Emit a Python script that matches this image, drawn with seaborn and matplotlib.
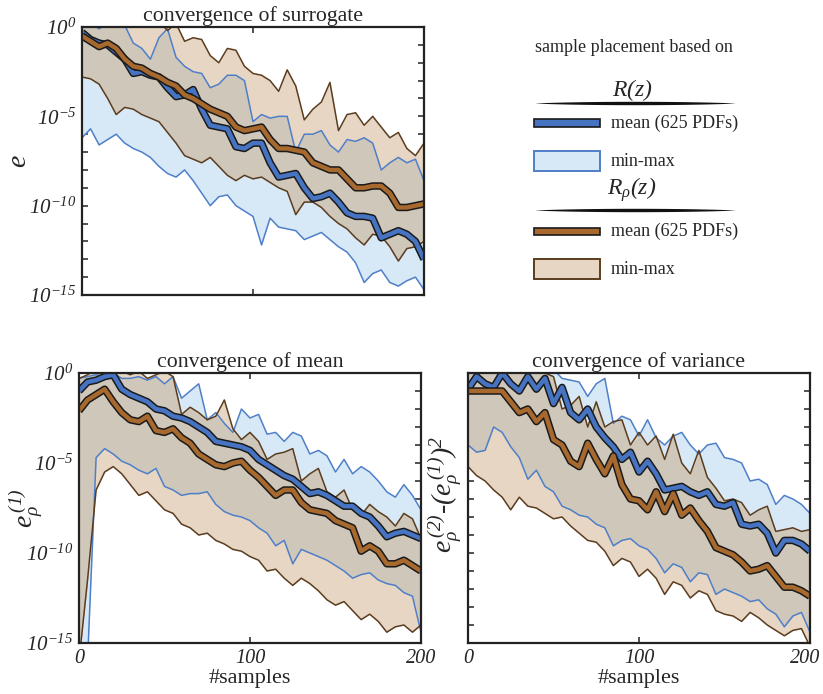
import numpy as np
import pandas as pd
import matplotlib
matplotlib.use("Agg")
import matplotlib.pyplot as plt
import matplotlib.transforms as mtransforms
from matplotlib.patches import Rectangle
import seaborn as sns

# number of samples at which the errors are recorded
samples = np.arange(0, 201, 5)

# log10 of the error; R = placement based on R(z), Q = placement based on R_rho(z)
# --- convergence of surrogate ---
surr_R_mean = [-0.3, -0.7, -0.9, -1.0, -1.4, -1.8, -2.6, -2.5, -2.7, -2.8, -3.4, -3.9, -3.8, -3.5,
               -4.6, -5.5, -5.6, -5.7, -6.7, -6.8, -6.5, -6.5, -7.6, -8.4, -8.3, -8.2, -9.0, -9.6,
               -9.5, -9.3, -9.8, -10.4, -10.6, -10.6, -10.7, -11.8, -11.6, -11.4, -11.6, -12.0, -13.0]
surr_R_min = [-6.2, -5.7, -6.6, -6.3, -6.0, -6.5, -6.8, -7.0, -7.3, -7.8, -8.2, -8.4, -8.0, -8.6,
              -9.3, -10.0, -9.5, -9.4, -10.0, -10.3, -10.6, -12.2, -10.7, -11.2, -11.3, -11.4, -11.9,
              -11.7, -11.5, -11.9, -12.3, -12.6, -13.2, -14.3, -13.8, -13.6, -14.3, -14.5, -14.2,
              -14.0, -14.7]
surr_R_max = [0.3, 0.2, -0.1, 0.2, 0.2, 0.1, -0.9, -1.2, -1.8, -0.6, -0.1, -1.7, -2.2, -2.5, -2.6,
              -3.4, -3.2, -2.7, -2.7, -3.0, -5.3, -4.9, -5.1, -5.0, -5.0, -7.0, -6.0, -6.0, -5.8,
              -6.6, -7.0, -6.3, -6.4, -6.2, -6.5, -8.0, -7.6, -7.3, -7.6, -7.4, -8.6]
surr_Q_mean = [-0.5, -0.8, -1.1, -0.9, -1.2, -1.8, -2.2, -2.3, -2.6, -2.8, -3.1, -3.3, -3.8, -4.0,
               -4.3, -4.6, -4.8, -5.0, -5.6, -5.8, -5.7, -5.6, -6.3, -6.8, -6.8, -6.9, -7.0, -7.6,
               -7.8, -8.0, -8.0, -8.5, -9.0, -9.0, -8.9, -8.9, -9.3, -10.1, -10.1, -10.0, -9.9]
surr_Q_min = [-2.8, -2.9, -3.2, -4.0, -4.9, -4.5, -4.6, -4.9, -5.1, -5.3, -5.9, -6.5, -7.2, -7.4,
              -7.6, -7.3, -7.8, -8.3, -8.6, -8.3, -8.5, -8.4, -8.7, -9.0, -9.2, -10.5, -9.8, -9.8,
              -10.1, -10.6, -11.0, -11.3, -11.8, -12.2, -11.6, -11.7, -12.3, -13.1, -12.4, -12.3,
              -12.0]
surr_Q_max = [0.3, 0.3, 0.3, 0.3, 0.3, 0.3, 0.3, 0.3, 0.3, 0.3, -0.2, 0.2, -0.8, -0.6, -0.7, -1.6,
              -2.0, -1.2, -1.3, -2.2, -2.6, -2.7, -3.0, -3.6, -2.4, -3.3, -5.2, -4.6, -4.2, -3.1,
              -5.8, -4.9, -4.8, -5.5, -5.0, -5.6, -6.2, -5.9, -6.8, -7.2, -6.5]

# --- convergence of mean ---
mean_R_mean = [-1.0, -0.5, -0.4, -0.2, -0.1, -0.9, -1.2, -1.4, -1.6, -2.0, -2.1, -2.4, -2.5, -2.7,
               -3.0, -3.3, -3.8, -3.9, -4.0, -4.1, -4.3, -4.8, -5.1, -5.4, -5.7, -5.9, -6.3, -6.7,
               -6.6, -6.8, -7.1, -7.4, -7.4, -7.8, -8.0, -8.5, -9.1, -8.9, -8.8, -9.0, -9.2]
mean_R_min = [-16.0, -16.0, -4.7, -4.2, -4.5, -4.9, -5.1, -5.4, -5.6, -5.3, -6.3, -6.5, -6.8, -6.7,
              -6.7, -6.6, -7.3, -7.7, -7.9, -8.0, -8.2, -8.6, -8.9, -9.6, -9.3, -10.6, -9.8, -10.0,
              -10.2, -10.4, -10.7, -11.0, -11.4, -11.2, -11.1, -11.5, -11.7, -11.8, -12.2, -12.4,
              -14.4]
mean_R_max = [-0.3, -0.2, -0.1, -0.2, 0.0, -0.3, -0.3, -0.2, -0.4, -0.2, -0.6, -0.2, -1.4, -1.0,
              -0.6, -2.6, -2.2, -2.8, -3.3, -2.0, -2.5, -2.3, -3.4, -3.3, -3.8, -3.3, -3.5, -4.5,
              -4.3, -4.6, -5.5, -4.8, -5.6, -5.2, -5.5, -6.0, -6.6, -6.9, -6.2, -6.8, -7.6]
mean_Q_mean = [-2.1, -1.5, -1.2, -0.9, -1.6, -2.2, -2.6, -2.7, -2.4, -3.2, -3.3, -3.1, -3.6, -3.9,
               -4.5, -4.8, -5.1, -5.2, -5.0, -4.9, -5.4, -5.8, -6.3, -6.8, -6.5, -6.5, -7.2, -7.6,
               -7.7, -7.8, -8.2, -8.4, -8.6, -9.9, -9.6, -9.9, -10.6, -10.6, -10.4, -10.7, -11.0]
mean_Q_min = [-16.0, -11.5, -6.5, -5.5, -5.2, -5.6, -6.2, -6.8, -6.6, -7.1, -7.6, -7.8, -8.4, -8.6,
              -9.0, -8.9, -9.3, -9.5, -9.8, -9.9, -10.2, -10.4, -11.0, -10.9, -11.4, -11.8, -11.4,
              -11.7, -12.1, -12.6, -12.9, -12.7, -13.2, -13.7, -13.4, -13.8, -14.4, -14.1, -14.0,
              -14.4, -14.0]
mean_Q_max = [-0.3, -0.1, 0.2, 0.2, 0.2, 0.1, -0.1, 0.1, -0.3, -0.1, 0.1, -0.2, -2.3, -1.9, -2.2,
              -2.6, -2.4, -1.5, -3.1, -3.7, -3.3, -3.8, -4.8, -4.5, -4.4, -4.2, -6.0, -5.6, -5.3,
              -6.6, -6.9, -6.5, -7.6, -7.9, -7.3, -7.7, -8.0, -8.5, -7.8, -8.1, -9.2]

# --- convergence of variance ---
var_R_mean = [-0.9, -0.2, -0.6, -0.8, 0.0, -0.6, -1.0, -0.2, -0.9, -0.3, -1.7, -0.8, -2.2, -2.6,
              -2.0, -3.0, -3.6, -4.1, -4.8, -4.4, -5.5, -4.9, -5.6, -6.5, -6.4, -6.3, -6.6, -6.8,
              -6.6, -7.3, -7.4, -7.2, -8.4, -8.5, -8.4, -8.9, -10.0, -9.3, -9.3, -9.5, -9.9]
var_R_min = [-4.0, -4.4, -4.3, -3.0, -3.3, -4.1, -4.7, -5.9, -5.4, -6.3, -6.6, -7.4, -7.6, -7.9,
             -8.0, -8.4, -8.6, -9.6, -9.3, -9.2, -9.6, -9.8, -10.3, -11.1, -10.6, -10.8, -11.6,
             -11.1, -11.2, -12.3, -12.0, -12.2, -12.4, -12.7, -12.6, -13.1, -13.4, -14.1, -13.5,
             -13.3, -14.4]
var_R_max = [0.2, 0.2, 0.2, 0.2, 0.2, 0.2, 0.2, 0.2, 0.2, 0.2, 0.2, -0.3, -0.4, -0.5, -1.3, -0.6,
             -0.3, -2.8, -2.4, -2.6, -3.5, -2.6, -3.6, -4.0, -3.5, -3.3, -4.0, -4.5, -4.0, -3.9,
             -4.7, -4.8, -5.0, -6.0, -5.9, -6.2, -7.3, -6.8, -7.0, -7.3, -7.8]
var_Q_mean = [-1.0, -1.0, -1.0, -1.0, -1.0, -1.6, -2.2, -2.0, -2.7, -2.2, -3.7, -4.0, -4.9, -5.2,
              -3.9, -4.8, -5.6, -4.6, -6.2, -7.0, -7.1, -7.6, -6.6, -7.7, -6.7, -7.9, -7.5, -8.2,
              -8.8, -9.7, -9.9, -10.1, -10.5, -11.0, -10.9, -10.7, -11.3, -11.9, -11.9, -12.1, -12.4]
var_Q_min = [-5.2, -5.7, -6.0, -6.5, -6.9, -7.6, -6.9, -7.4, -7.5, -7.8, -8.1, -8.0, -8.5, -8.9,
             -9.3, -9.4, -9.9, -10.7, -10.3, -10.5, -11.3, -10.9, -11.4, -12.3, -11.6, -11.8, -12.5,
             -12.1, -12.3, -13.2, -13.4, -13.5, -13.8, -13.3, -13.6, -14.0, -14.3, -14.6, -14.3,
             -14.2, -15.2]
var_Q_max = [0.2, 0.2, 0.2, 0.2, 0.2, 0.1, 0.1, 0.1, 0.0, 0.0, -0.2, -2.0, -1.8, -1.3, -3.0, -1.6,
             -3.0, -2.7, -2.6, -4.0, -3.3, -4.0, -3.5, -4.8, -3.4, -5.0, -5.6, -4.3, -5.8, -6.4,
             -7.1, -7.0, -7.2, -7.9, -7.6, -7.4, -8.8, -8.7, -8.6, -8.8, -8.7]

# legend labels
group_titles = [r"$R(z)$", r"$R_{\rho}(z)$"]
entry_labels = ["mean (625 PDFs)", "min-max"]

# colours
C_R = "#4674c2"
C_R_FILL = "#d7e9f7"
C_R_EDGE = "#4f7fc8"
C_Q = "#a8692e"
C_Q_FILL = "#e6d6c3"
C_Q_EDGE = "#5b3c1e"
C_BOTH = "#cfc7ba"

sns.set_theme(style="ticks")
plt.rcParams["font.family"] = ["Liberation Serif", "DejaVu Serif"]
plt.rcParams["mathtext.fontset"] = "custom"
plt.rcParams["mathtext.rm"] = "Liberation Serif:italic"
plt.rcParams["mathtext.it"] = "Liberation Serif:italic"
plt.rcParams["mathtext.default"] = "it"
plt.rcParams["axes.linewidth"] = 1.6
plt.rcParams["axes.edgecolor"] = "#222222"

W, H = 823, 694
fig = plt.figure(figsize=(W / 100, H / 100), dpi=100)


def box(x0, y0, x1, y1):
    return [x0 / W, 1 - y1 / H, (x1 - x0) / W, (y1 - y0) / H]


def draw_panel(ax, r_mean, r_min, r_max, q_mean, q_min, q_max):
    df = pd.DataFrame({
        "samples": samples,
        "r_mean": 10.0 ** np.array(r_mean), "r_min": 10.0 ** np.array(r_min),
        "r_max": 10.0 ** np.array(r_max), "q_mean": 10.0 ** np.array(q_mean),
        "q_min": 10.0 ** np.array(q_min), "q_max": 10.0 ** np.array(q_max),
    })
    ax.set_yscale("log")
    ax.fill_between(df.samples, df.r_min, df.r_max, color=C_R_FILL, lw=0)
    ax.fill_between(df.samples, df.q_min, df.q_max, color=C_Q_FILL, lw=0)
    lo = np.maximum(df.r_min, df.q_min)
    hi = np.minimum(df.r_max, df.q_max)
    ax.fill_between(df.samples, lo, hi, where=hi > lo, interpolate=True, color=C_BOTH, lw=0)
    for col, c in (("r_min", C_R_EDGE), ("r_max", C_R_EDGE), ("q_min", C_Q_EDGE), ("q_max", C_Q_EDGE)):
        sns.lineplot(data=df, x="samples", y=col, ax=ax, color=c, lw=1.1)
    for col, c in (("r_mean", C_R), ("q_mean", C_Q)):
        sns.lineplot(data=df, x="samples", y=col, ax=ax, color="#1a1a1a", lw=5.4,
                     solid_capstyle="butt", solid_joinstyle="round")
        sns.lineplot(data=df, x="samples", y=col, ax=ax, color=c, lw=3.2,
                     solid_capstyle="butt", solid_joinstyle="round")
    ax.set_xlim(0, 200)
    ax.set_ylim(1e-15, 1e0)
    ax.set_yticks([10.0 ** k for k in range(-15, 1)])
    ax.minorticks_off()
    ax.set_xticks([0, 100, 200])
    ax.tick_params(which="both", direction="in", top=True, right=True, length=4, width=1.1,
                   color="#222222", labelsize=14, pad=4)
    ax.set_xlabel("")
    ax.set_ylabel("")
    for s in ax.spines.values():
        s.set_visible(True)


def decade_labels(show):
    return [(r"$10^{%d}$" % k if (k % 5 == 0 and show) else "") for k in range(-15, 1)]


ax_s = fig.add_axes(box(82, 27, 424, 295))
draw_panel(ax_s, surr_R_mean, surr_R_min, surr_R_max, surr_Q_mean, surr_Q_min, surr_Q_max)
ax_s.set_yticklabels(decade_labels(True), fontsize=15)
ax_s.set_xticklabels([])
ax_s.set_title("convergence of surrogate", fontsize=15.7, pad=4)
ax_s.set_ylabel(r"$e$", fontsize=20)
ax_s.yaxis.set_label_coords(-0.145, 0.5)

ax_m = fig.add_axes(box(79, 373, 421, 643))
draw_panel(ax_m, mean_R_mean, mean_R_min, mean_R_max, mean_Q_mean, mean_Q_min, mean_Q_max)
ax_m.set_yticklabels(decade_labels(True), fontsize=15)
ax_m.set_xticklabels(["0", "100", "200"], fontstyle="italic", fontsize=14.5)
ax_m.set_title("convergence of mean", fontsize=15.7, pad=4)
ax_m.set_xlabel("#samples", fontsize=16, labelpad=1)
ax_m.set_ylabel(r"$e_{\rho}^{\,(1)}$", fontsize=20)
ax_m.yaxis.set_label_coords(-0.10, 0.5)

ax_v = fig.add_axes(box(468, 373, 810, 643))
draw_panel(ax_v, var_R_mean, var_R_min, var_R_max, var_Q_mean, var_Q_min, var_Q_max)
ax_v.set_yticklabels(decade_labels(False))
ax_v.set_xticklabels(["0", "100", "200"], fontstyle="italic", fontsize=14.5)
ax_v.set_title("convergence of variance", fontsize=15.7, pad=4)
ax_v.set_xlabel("#samples", fontsize=16, labelpad=1)
ax_v.set_ylabel(r"$e_{\rho}^{\,(2)}$-$(e_{\rho}^{\,(1)})^2$", fontsize=20)
ax_v.yaxis.set_label_coords(-0.012, 0.55)
# keep the last tick label inside the figure
last = ax_v.get_xticklabels()[-1]
last.set_transform(last.get_transform() + mtransforms.ScaledTranslation(-5 / 100, 0, fig.dpi_scale_trans))

# legend panel, laid out in pixel units
lg = fig.add_axes(box(520, 30, 823, 290))
lg.set_xlim(520, 823)
lg.set_ylim(290, 30)
lg.axis("off")
lg.text(634, 47, "sample placement based on", ha="center", va="center", fontsize=13)


def lens(yc):
    xs = np.linspace(535, 735, 300)
    u = (xs - 635) / 100
    t = 1.7 * np.clip(1 - u ** 2, 0, None) ** 0.8
    lg.fill_between(xs, yc - t, yc + t, color="#111111", lw=0)


rows = [
    (group_titles[0], 90, 103, C_R, (119, 127), C_R_FILL, C_R_EDGE, (151, 171)),
    (group_titles[1], 190, 210, C_Q, (228, 235), C_Q_FILL, C_Q_EDGE, (259, 279)),
]
for title, ty, ly, mc, (m0, m1), fc, ec, (f0, f1) in rows:
    lg.text(632, ty, title, ha="center", va="center", fontsize=17)
    lens(ly)
    lg.add_patch(Rectangle((534, m0), 66, m1 - m0, facecolor=mc, edgecolor="#1a1a1a", lw=1.2))
    lg.text(611, (m0 + m1) / 2, entry_labels[0], ha="left", va="center", fontsize=13)
    lg.add_patch(Rectangle((534, f0), 66, f1 - f0, facecolor=fc, edgecolor=ec, lw=1.4))
    lg.text(611, (f0 + f1) / 2, entry_labels[1], ha="left", va="center", fontsize=13)

fig.savefig("out.png", dpi=100)
